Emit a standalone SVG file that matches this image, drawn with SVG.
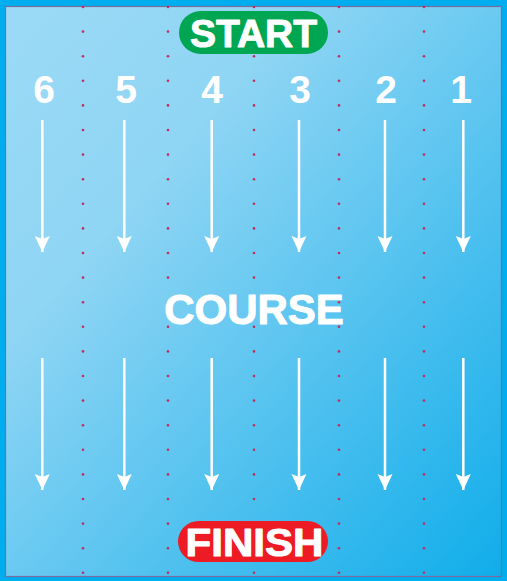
<svg xmlns="http://www.w3.org/2000/svg" width="507" height="581" viewBox="0 0 507 581">
<defs>
<linearGradient id="bg" x1="0" y1="0" x2="1" y2="1">
<stop offset="0" stop-color="#9bdaf6"/>
<stop offset="0.3" stop-color="#8fd5f4"/>
<stop offset="1" stop-color="#10adea"/>
</linearGradient>
<marker id="ah" markerUnits="userSpaceOnUse" markerWidth="16" markerHeight="18" refX="16" refY="7.5" orient="auto">
<path d="M0,0 L16,7.5 L0,15 L3,7.5 Z" fill="#ffffff"/>
</marker>
<g id="dotcol" fill="#c22d5c">
<circle cx="0" cy="7" r="1.3"/><circle cx="0" cy="31.6" r="1.3"/><circle cx="0" cy="56.2" r="1.3"/><circle cx="0" cy="80.8" r="1.3"/>
<circle cx="0" cy="105.4" r="1.3"/><circle cx="0" cy="130" r="1.3"/><circle cx="0" cy="154.6" r="1.3"/><circle cx="0" cy="179.2" r="1.3"/>
<circle cx="0" cy="203.8" r="1.3"/><circle cx="0" cy="228.4" r="1.3"/><circle cx="0" cy="253" r="1.3"/><circle cx="0" cy="277.6" r="1.3"/>
<circle cx="0" cy="302.2" r="1.3"/><circle cx="0" cy="326.8" r="1.3"/><circle cx="0" cy="351.4" r="1.3"/><circle cx="0" cy="376" r="1.3"/>
<circle cx="0" cy="400.6" r="1.3"/><circle cx="0" cy="425.2" r="1.3"/><circle cx="0" cy="449.8" r="1.3"/><circle cx="0" cy="474.4" r="1.3"/>
<circle cx="0" cy="499" r="1.3"/><circle cx="0" cy="523.6" r="1.3"/><circle cx="0" cy="548.2" r="1.3"/><circle cx="0" cy="572.8" r="1.3"/>
</g>
<style>
.arr{stroke:#ffffff;stroke-width:2.5;fill:none;marker-end:url(#ah)}
.lab{font-family:"Liberation Sans",Arial,sans-serif;font-weight:bold;fill:#ffffff;text-anchor:middle}
.num{font-size:39px}
.pill{font-size:39px;stroke:#ffffff;stroke-width:1;stroke-linejoin:round}
</style>
</defs>
<rect x="0" y="0" width="507" height="581" fill="#00aeef"/>
<rect x="5.5" y="6.5" width="496" height="570" fill="url(#bg)" stroke="#7a6c9c" stroke-width="1.2"/>
<g id="lane-dividers">
<use href="#dotcol" x="83"/>
<use href="#dotcol" x="168"/>
<use href="#dotcol" x="254"/>
<use href="#dotcol" x="339"/>
<use href="#dotcol" x="424"/>
</g>
<g id="start">
<rect x="179" y="11" width="149" height="43" rx="21.5" fill="#00a651"/>
<text class="lab pill" x="253.5" y="47">START</text>
</g>
<g id="lanes">
<text class="lab num" x="44" y="103">6</text>
<text class="lab num" x="126" y="103">5</text>
<text class="lab num" x="212" y="103">4</text>
<text class="lab num" x="300" y="103">3</text>
<text class="lab num" x="386" y="103">2</text>
<text class="lab num" x="461" y="103">1</text>
</g>
<g id="course">
<text class="lab" x="254" y="324" font-size="42" stroke="#ffffff" stroke-width="1" stroke-linejoin="round">COURSE</text>
</g>
<g id="finish">
<rect x="178" y="521" width="150" height="41" rx="20.5" fill="#ed1c24"/>
<text class="lab pill" x="254.5" y="556" font-size="40" textLength="138" lengthAdjust="spacingAndGlyphs">FINISH</text>
</g>
<g id="connectors">
<line class="arr" x1="42.3" y1="120" x2="42.3" y2="252"/>
<line class="arr" x1="124.3" y1="120" x2="124.3" y2="252"/>
<line class="arr" x1="211.7" y1="120" x2="211.7" y2="252"/>
<line class="arr" x1="299" y1="120" x2="299" y2="252"/>
<line class="arr" x1="385" y1="120" x2="385" y2="252"/>
<line class="arr" x1="463.3" y1="120" x2="463.3" y2="252"/>
<line class="arr" x1="42.3" y1="358" x2="42.3" y2="490"/>
<line class="arr" x1="124.3" y1="358" x2="124.3" y2="490"/>
<line class="arr" x1="211.7" y1="358" x2="211.7" y2="490"/>
<line class="arr" x1="299" y1="358" x2="299" y2="490"/>
<line class="arr" x1="385" y1="358" x2="385" y2="490"/>
<line class="arr" x1="463.3" y1="358" x2="463.3" y2="490"/>
</g>
</svg>
